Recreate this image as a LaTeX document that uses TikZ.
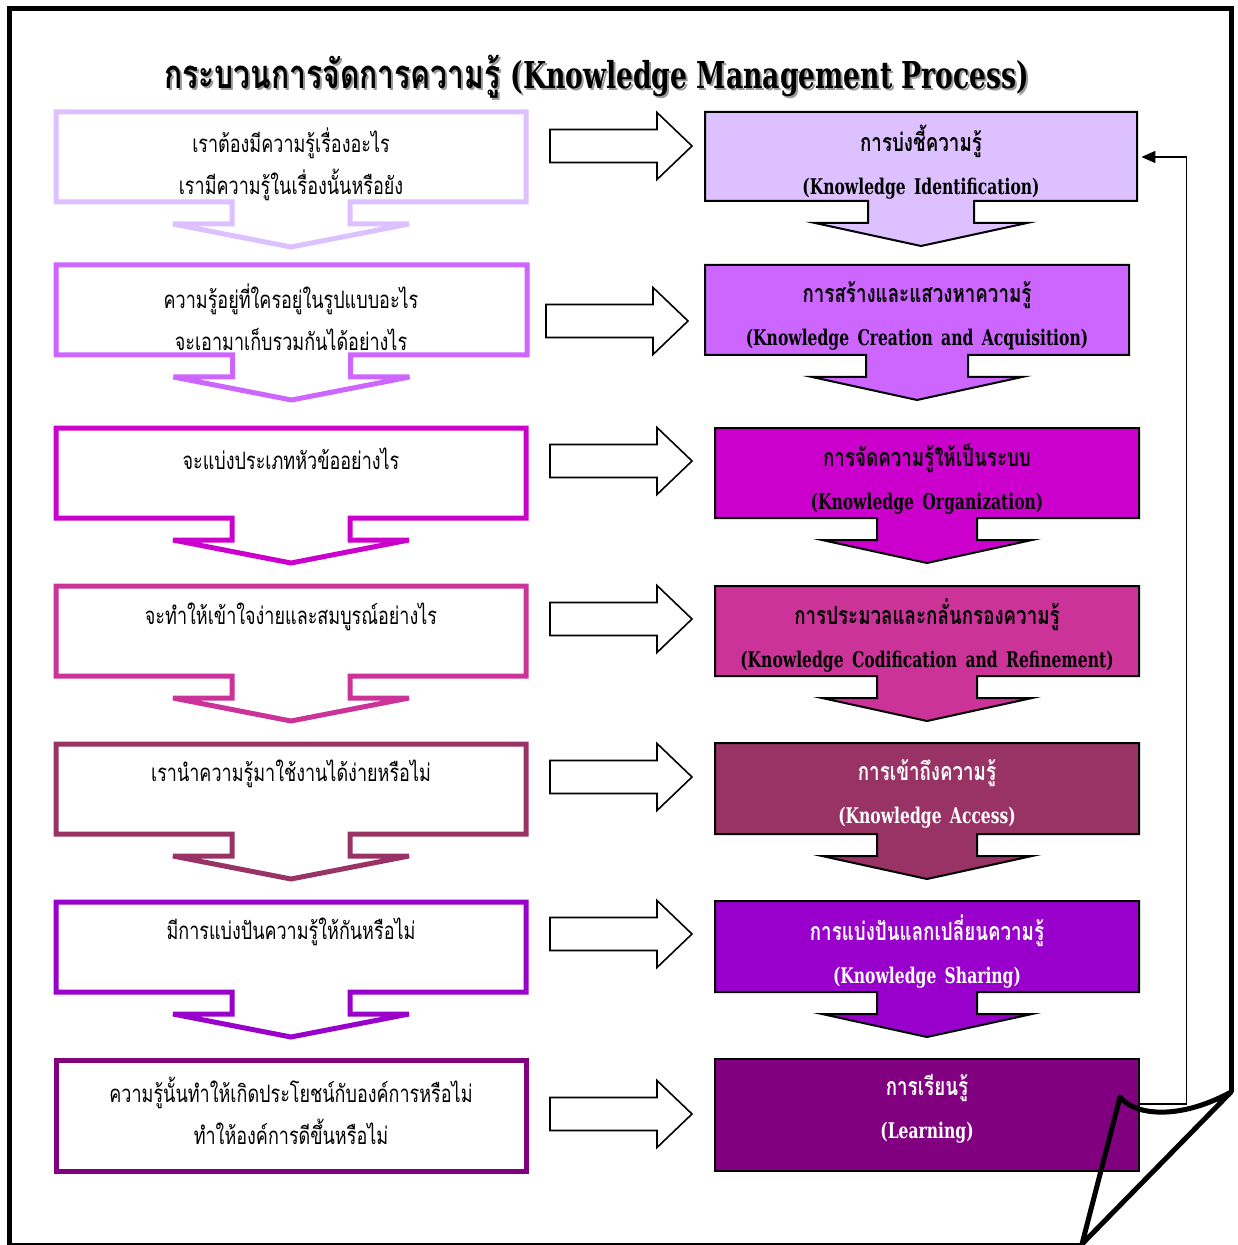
\documentclass[tikz,border=0pt]{standalone}
\usepackage{fontspec}
\usepackage{xcolor}
\usetikzlibrary{arrows.meta,positioning,calc}
\newfontfamily\thaifont[Script=Thai,FakeStretch=0.75]{Loma}
\newfontfamily\slabfont[FakeStretch=0.72]{DejaVu Serif}

\definecolor{kmA}{HTML}{DDC0FF}
\definecolor{kmB}{HTML}{CC66FF}
\definecolor{kmC}{HTML}{CC00CC}
\definecolor{kmD}{HTML}{CC3399}
\definecolor{kmE}{HTML}{993366}
\definecolor{kmF}{HTML}{9900CC}
\definecolor{kmG}{HTML}{800080}

% box with a down arrow: style, left, top, right, bottom, stem half, head half
\newcommand{\arrowbox}[7]{%
  \draw[#1] (#2,#3) -- (#4,#3) -- (#4,#5)
    -- ({(#2+#4)/2+#6},#5) -- ({(#2+#4)/2+#6},#5+22) -- ({(#2+#4)/2+#7},#5+22)
    -- ({(#2+#4)/2},#5+45) -- ({(#2+#4)/2-#7},#5+22)
    -- ({(#2+#4)/2-#6},#5+22) -- ({(#2+#4)/2-#6},#5) -- (#2,#5) -- cycle;}
% hollow block arrow: start x, tip x, centre y
\newcommand{\fatarrow}[3]{%
  \draw[blockarrow] (#1,#3-16.5) -- (#2-35,#3-16.5) -- (#2-35,#3-33.5) -- (#2,#3)
    -- (#2-35,#3+33.5) -- (#2-35,#3+16.5) -- (#1,#3+16.5) -- cycle;}

\tikzset{
  leftbox/.style={draw=#1, line width=2.5pt, fill=white},
  rightbox/.style={draw=black, line width=1pt, fill=#1},
  blockarrow/.style={draw=black, line width=0.8pt, fill=white},
  lefttext/.style={font=\thaifont\fontsize{12}{21}\selectfont, align=center, inner sep=0pt},
  righttext/.style={text width=#1, align=center, inner sep=0pt, font=\fontsize{12.5}{21.5}\selectfont\bfseries},
}
\newcommand{\thb}[1]{{\thaifont\bfseries #1}}
\newcommand{\lnb}[1]{{\slabfont\bfseries\fontsize{10.8}{21.5}\selectfont #1}}
\newcommand{\kmtitle}{\thaifont\bfseries\fontsize{20}{26}\selectfont กระบวนการจัดการความรู้ {\slabfont\fontsize{18.5}{26}\selectfont (Knowledge Management Process)}}

\begin{document}
\begin{tikzpicture}[x=0.5pt,y=-0.5pt]
    \useasboundingbox (0,0) rectangle (1237,1245);

    % Title with shadow
    \node[text=black!40] (titleshade) at (599,79) {\kmtitle};
    \node (title) at (597,77) {\kmtitle};

    % Left column: questions
    \arrowbox{leftbox=kmA}{56}{112}{526}{202}{59}{118}
    \arrowbox{leftbox=kmB}{56}{265}{527}{355}{59}{118}
    \arrowbox{leftbox=kmC}{56}{428}{526}{518}{59}{118}
    \arrowbox{leftbox=kmD}{56}{586}{526}{676}{59}{118}
    \arrowbox{leftbox=kmE}{56}{744}{526}{834}{59}{118}
    \arrowbox{leftbox=kmF}{56}{902}{526}{992}{59}{118}
    \draw[leftbox=kmG] (56,1060) rectangle (526,1171);

    \node[lefttext] (q1) at (291,164) {เราต้องมีความรู้เรื่องอะไร\\เรามีความรู้ในเรื่องนั้นหรือยัง};
    \node[lefttext] (q2) at (291,317) {ความรู้อยู่ที่ใครอยู่ในรูปแบบอะไร\\จะเอามาเก็บรวมกันได้อย่างไร};
    \node[lefttext] (q3) at (291,459) {จะแบ่งประเภทหัวข้ออย่างไร};
    \node[lefttext] (q4) at (291,617) {จะทำให้เข้าใจง่ายและสมบูรณ์อย่างไร};
    \node[lefttext] (q5) at (291,774) {เรานำความรู้มาใช้งานได้ง่ายหรือไม่};
    \node[lefttext] (q6) at (291,932) {มีการแบ่งปันความรู้ให้กันหรือไม่};
    \node[lefttext] (q7) at (291,1111) {ความรู้นั้นทำให้เกิดประโยชน์กับองค์การหรือไม่\\ทำให้องค์การดีขึ้นหรือไม่};

    % Block arrows
    \fatarrow{550}{692}{146}
    \fatarrow{546}{688}{321}
    \fatarrow{550}{692}{461}
    \fatarrow{550}{692}{619}
    \fatarrow{550}{692}{777}
    \fatarrow{550}{692}{934}
    \fatarrow{550}{692}{1114}

    % Right column: KM steps
    \arrowbox{rightbox=kmA}{705}{112}{1137}{201}{53}{106}
    \arrowbox{rightbox=kmB}{705}{265}{1129}{355}{51}{105}
    \arrowbox{rightbox=kmC}{715}{428}{1139}{518}{50}{105}
    \arrowbox{rightbox=kmD}{715}{586}{1139}{676}{50}{105}
    \arrowbox{rightbox=kmE}{715}{743}{1139}{834}{50}{105}
    \arrowbox{rightbox=kmF}{715}{901}{1139}{992}{50}{105}
    \draw[rightbox=kmG] (715,1059) rectangle (1139,1171);

    \node[righttext=216pt] (r1) at (921,162) {\thb{การบ่งชี้ความรู้}\\\lnb{(Knowledge Identification)}};
    \node[righttext=212pt] (r2) at (917,316) {\thb{การสร้างและแสวงหาความรู้}\\\lnb{(Knowledge Creation and Acquisition)}};
    \node[righttext=212pt] (r3) at (927,479) {\thb{การจัดความรู้ให้เป็นระบบ}\\\lnb{(Knowledge Organization)}};
    \node[righttext=212pt] (r4) at (927,636) {\thb{การประมวลและกลั่นกรองความรู้}\\\lnb{(Knowledge Codification and Refinement)}};
    \node[righttext=212pt, text=white] (r5) at (927,794) {\thb{การเข้าถึงความรู้}\\\lnb{(Knowledge Access)}};
    \node[righttext=212pt, text=white] (r6) at (927,952) {\thb{การแบ่งปันแลกเปลี่ยนความรู้}\\\lnb{(Knowledge Sharing)}};
    \node[righttext=212pt, text=white] (r7) at (927,1109) {\thb{การเรียนรู้}\\\lnb{(Learning)}};

    % Feedback from learning back to identification
    \draw[line width=0.8pt, -{Stealth[length=7pt,width=6pt,inset=0pt]}] ([yshift=2.5pt]r7.east) -- ++(47,0) |- ([xshift=2pt,yshift=2.5pt]r1.east);

    % Page frame with curled corner
    \draw[line width=2.5pt] (1231,1092) -- (1231,9) -- (9,9) -- (9,1250);
    \draw[line width=1.2pt] (9,1244) -- (1082,1244);
    \draw[line width=2.5pt, line join=round] (1231,1092) .. controls (1180,1120) and (1135,1116) .. (1120,1097) -- (1082,1244) -- cycle;
\end{tikzpicture}
\end{document}
